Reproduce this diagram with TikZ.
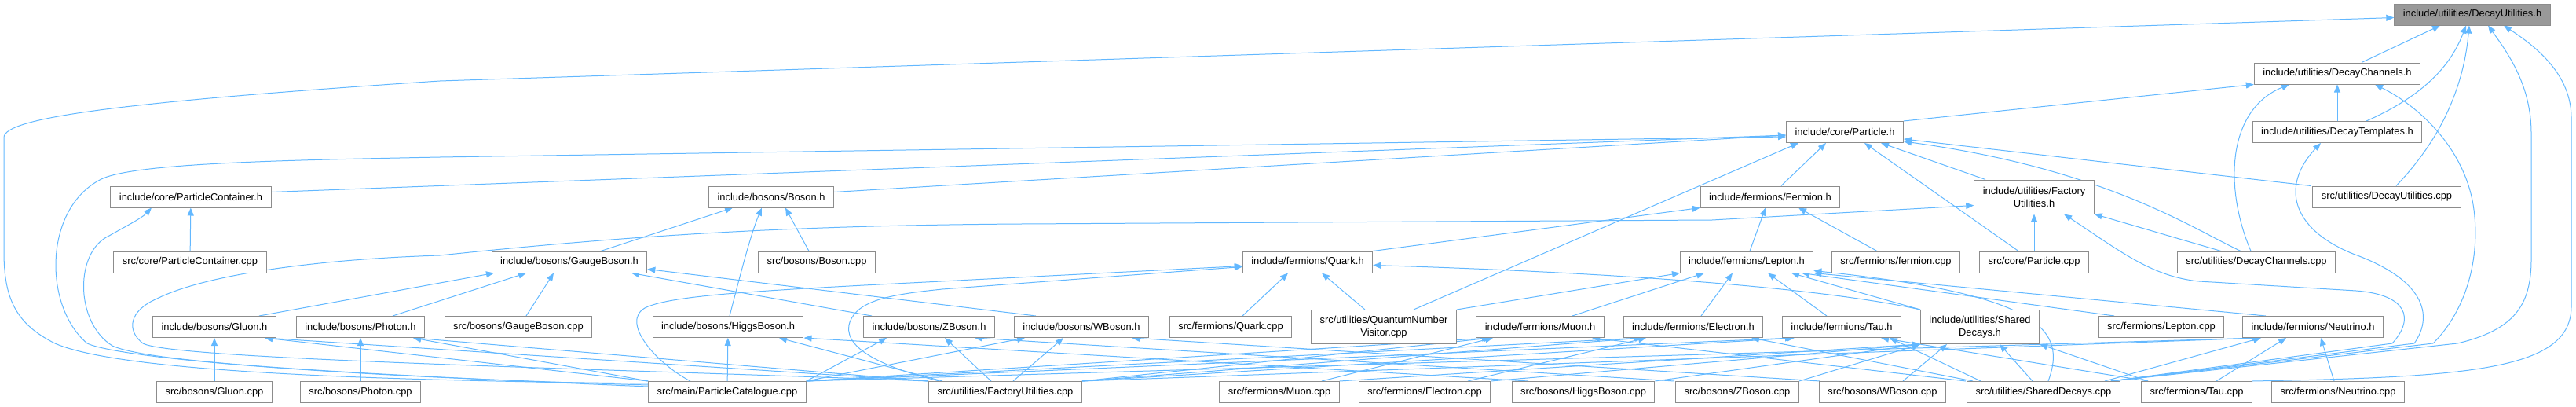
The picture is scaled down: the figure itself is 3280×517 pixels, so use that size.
\documentclass[tikz,border=0pt]{standalone}
\usepackage{fontspec}
\setmainfont{Liberation Sans}
\usepackage{tikz}
\usetikzlibrary{arrows.meta, backgrounds}
\definecolor{edgeblue}{HTML}{63B8FF}
\definecolor{boxline}{HTML}{8C8C8C}
\definecolor{rootfill}{HTML}{999999}

\begin{document}
\begin{tikzpicture}[x=1pt, y=-1pt,
  box/.style={draw=boxline, line width=1pt, fill=white, minimum height=27pt,
              inner xsep=11pt, inner ysep=2pt, font=\fontsize{12.9}{16}\selectfont},
  box2/.style={box, minimum height=43pt, align=center},
  root/.style={box, fill=rootfill},
  incl/.style={draw=edgeblue, line width=1pt, -{Triangle[length=10pt, width=8pt]}},
]
\useasboundingbox (0,0) rectangle (3280,517);

% headers and sources, row by row
\node[root] (dutil) at (3148,18.5) {include/utilities/DecayUtilities.h};
\node[box] (dchan) at (2976,93.5) {include/utilities/DecayChannels.h};
\node[box] (dtempl) at (2976,168) {include/utilities/DecayTemplates.h};
\node[box] (particle) at (2349,168) {include/core/Particle.h};

\node[box] (pcont) at (243,250.5) {include/core/ParticleContainer.h};
\node[box] (boson) at (982,250.5) {include/bosons/Boson.h};
\node[box] (fermion) at (2254,250.5) {include/fermions/Fermion.h};
\node[box2] (factory) at (2590,250.5) {include/utilities/Factory\\Utilities.h};
\node[box] (dutilcpp) at (3039,250.5) {src/utilities/DecayUtilities.cpp};

\node[box] (pcontcpp) at (242,333.5) {src/core/ParticleContainer.cpp};
\node[box] (gauge) at (725,333.5) {include/bosons/GaugeBoson.h};
\node[box] (bosoncpp) at (1040,333.5) {src/bosons/Boson.cpp};
\node[box] (quark) at (1665,333.5) {include/fermions/Quark.h};
\node[box] (lepton) at (2224,333.5) {include/fermions/Lepton.h};
\node[box] (fermioncpp) at (2414,333.5) {src/fermions/fermion.cpp};
\node[box] (particlecpp) at (2590,333.5) {src/core/Particle.cpp};
\node[box] (dchancpp) at (2873,333.5) {src/utilities/DecayChannels.cpp};

\node[box] (gluon) at (273,416) {include/bosons/Gluon.h};
\node[box] (photon) at (459,416) {include/bosons/Photon.h};
\node[box] (gaugecpp) at (660,416) {src/bosons/GaugeBoson.cpp};
\node[box] (higgs) at (927,416) {include/bosons/HiggsBoson.h};
\node[box] (zboson) at (1183,416) {include/bosons/ZBoson.h};
\node[box] (wboson) at (1377,416) {include/bosons/WBoson.h};
\node[box] (quarkcpp) at (1567,416) {src/fermions/Quark.cpp};
\node[box2] (qnv) at (1762,416) {src/utilities/QuantumNumber\\Visitor.cpp};
\node[box] (muon) at (1961,416) {include/fermions/Muon.h};
\node[box] (electron) at (2156,416) {include/fermions/Electron.h};
\node[box] (tau) at (2345,416) {include/fermions/Tau.h};
\node[box2] (shared) at (2521,416) {include/utilities/Shared\\Decays.h};
\node[box] (leptoncpp) at (2752,416) {src/fermions/Lepton.cpp};
\node[box] (neutrino) at (2945,416) {include/fermions/Neutrino.h};

\node[box] (gluoncpp) at (273,499) {src/bosons/Gluon.cpp};
\node[box] (photoncpp) at (459,499) {src/bosons/Photon.cpp};
\node[box] (catalogue) at (926,499) {src/main/ParticleCatalogue.cpp};
\node[box] (factorycpp) at (1280,499) {src/utilities/FactoryUtilities.cpp};
\node[box] (muoncpp) at (1629,499) {src/fermions/Muon.cpp};
\node[box] (electroncpp) at (1814,499) {src/fermions/Electron.cpp};
\node[box] (higgscpp) at (2016,499) {src/bosons/HiggsBoson.cpp};
\node[box] (zbosoncpp) at (2212,499) {src/bosons/ZBoson.cpp};
\node[box] (wbosoncpp) at (2397,499) {src/bosons/WBoson.cpp};
\node[box] (sharedcpp) at (2602,499) {src/utilities/SharedDecays.cpp};
\node[box] (taucpp) at (2797,499) {src/fermions/Tau.cpp};
\node[box] (neutrinocpp) at (2977,499) {src/fermions/Neutrino.cpp};

\begin{scope}[on background layer]
% into DecayUtilities.h
\draw[incl] ([yshift=11pt]catalogue.west) .. controls (450,484) and (150,472) .. (70,437)
  .. controls (20,412) and (5,380) .. (5,320) -- (5,175) .. controls (5,150) and (150,130) .. (560,103)
  -- ([yshift=-4pt]dutil.west);
\draw[incl] ([xshift=31pt]dchan.north) -- ([xshift=-41pt]dutil.south);
\draw[incl] ([xshift=37pt]dtempl.north) .. controls (3090,120) and (3122,80) .. ([xshift=-8pt]dutil.south);
\draw[incl] ([xshift=12pt]dutilcpp.north) .. controls (3115,170) and (3138,100) .. ([xshift=-4pt]dutil.south);
\draw[incl] ([xshift=-12pt]sharedcpp.north east) -- (3129,437) .. controls (3200,420) and (3223,390) .. (3223,330)
  -- (3223,170) .. controls (3223,110) and (3195,70) .. ([xshift=20pt]dutil.south);
\draw[incl] (taucpp.north east) .. controls (3150,480) and (3274,470) .. (3274,390)
  -- (3274,150) .. controls (3274,95) and (3230,60) .. ([xshift=40pt]dutil.south);

% into DecayChannels.h and DecayTemplates.h
\draw[incl] (particle.north east) -- (dchan.south west);
\draw[incl] (dtempl) -- (dchan);
\draw[incl] ([xshift=-7pt]dchancpp.north) .. controls (2832,240) and (2835,140) .. ([xshift=-61pt]dchan.south);
\draw[incl] ([xshift=-12pt]sharedcpp.north east) -- (3098,437) .. controls (3140,395) and (3158,330) .. (3150,267)
  .. controls (3140,190) and (3080,135) .. ([xshift=48pt]dchan.south);
\draw[incl] ([xshift=-12pt]sharedcpp.north east) -- (3074,437) .. controls (3100,400) and (3085,355) .. (2996,323)
  .. controls (2915,290) and (2905,235) .. ([xshift=-21pt]dtempl.south);

% into Particle.h
\draw[incl] ([yshift=6pt]pcont.east) -- ([yshift=-4pt]particle.west);
\draw[incl] ([yshift=6pt]boson.east) -- ([yshift=-4pt]particle.west);
\draw[incl] ([yshift=9pt]catalogue.west) .. controls (400,478) and (150,455) .. (111,437)
  .. controls (55,390) and (55,265) .. (129,228) .. controls (170,208) and (350,204) .. (560,200)
  -- ([yshift=-6pt]particle.west);
\draw[incl] ([xshift=38pt]qnv.north) -- ([xshift=-59pt]particle.south);
\draw[incl] ([xshift=14pt]fermion.north) -- ([xshift=-24pt]particle.south);
\draw[incl] ([xshift=-20pt]particlecpp.north) -- ([xshift=25pt]particle.south);
\draw[incl] ([xshift=-62pt]factory.north) -- ([xshift=46pt]particle.south);
\draw[incl] ([xshift=-97pt]dutilcpp.north) -- ([yshift=-9pt]particle.east);
\draw[incl] ([xshift=-20pt]dchancpp.north) .. controls (2790,290) and (2680,215) .. ([yshift=-12pt]particle.east);

% into ParticleContainer.h and FactoryUtilities.h
\draw[incl] (pcontcpp) -- (pcont);
\draw[incl] ([yshift=7pt]catalogue.west) .. controls (450,476) and (190,462) .. (143,440)
  .. controls (95,410) and (95,320) .. (139,300) .. controls (160,288) and (180,278) .. ([xshift=-50pt]pcont.south);
\draw[incl] (factorycpp.north west) .. controls (800,470) and (220,458) .. (182,437)
  .. controls (160,420) and (165,395) .. (200,380) .. controls (260,350) and (400,330) .. (560,325)
  .. controls (800,300) and (1000,287) .. (1300,285) -- (2180,280) -- ([yshift=-11pt]factory.west);
\draw[incl] (particlecpp) -- (factory);
\draw[incl] ([xshift=-45pt]dchancpp.north) -- (factory.south east);
\draw[incl] ([xshift=-12pt]sharedcpp.north east) -- (3046,437) .. controls (3075,405) and (3065,375) .. (3000,370)
  -- (2800,358) .. controls (2740,352) and (2700,320) .. ([xshift=38pt]factory.south);

% into Boson.h and GaugeBoson.h
\draw[incl] ([xshift=40pt]gauge.north) -- ([xshift=-49pt]boson.south);
\draw[incl] ([xshift=2pt]higgs.north) .. controls (940,360) and (955,300) .. ([xshift=-12pt]boson.south);
\draw[incl] ([xshift=-10pt]bosoncpp.north) -- ([xshift=18pt]boson.south);
\draw[incl] ([xshift=57pt]gluon.north) -- ([xshift=-96pt]gauge.south);
\draw[incl] ([xshift=41pt]photon.north) -- ([xshift=-55pt]gauge.south);
\draw[incl] ([xshift=10pt]gaugecpp.north) -- ([xshift=-20pt]gauge.south);
\draw[incl] ([xshift=-73pt]zboson.north) -- ([xshift=79pt]gauge.south);
\draw[incl] ([xshift=-58pt]wboson.north) -- ([yshift=-9pt]gauge.east);

% into Fermion.h, Quark.h, Lepton.h
\draw[incl] ([xshift=83pt]quark.north) -- (fermion.south west);
\draw[incl] ([xshift=4pt]lepton.north) -- ([xshift=-6pt]fermion.south);
\draw[incl] ([xshift=-24pt]fermioncpp.north) -- ([xshift=36pt]fermion.south);
\draw[incl] ([xshift=15pt]quarkcpp.north) -- ([xshift=-25pt]quark.south);
\draw[incl] ([xshift=-24pt]qnv.north) -- ([xshift=18pt]quark.south);
\draw[incl] ([xshift=-47pt]catalogue.north) .. controls (835,462) and (790,410) .. (821,392)
  .. controls (850,377) and (950,371) .. (1100,363) -- ([yshift=-5pt]quark.west);
\draw[incl] ([xshift=-84pt]factorycpp.north) .. controls (1115,465) and (1072,440) .. (1082,410)
  .. controls (1092,383) and (1130,375) .. (1200,368) -- ([yshift=-6pt]quark.west);
\draw[incl] (shared.north west) .. controls (2300,362) and (2000,345) .. ([yshift=-4pt]quark.east);
\draw[incl] (qnv.north east) -- ([xshift=-85pt]lepton.south);
\draw[incl] ([xshift=41pt]muon.north) -- ([xshift=-54pt]lepton.south);
\draw[incl] ([xshift=10pt]electron.north) -- ([xshift=-18pt]lepton.south);
\draw[incl] ([xshift=-19pt]tau.north) -- ([xshift=27pt]lepton.south);
\draw[incl] (shared.north west) -- ([xshift=57pt]lepton.south);
\draw[incl] ([xshift=-60pt]neutrino.north) -- (lepton.south east);
\draw[incl] ([xshift=-60pt]leptoncpp.north) -- ([xshift=70pt]lepton.south);
\draw[incl] ([xshift=6pt]sharedcpp.north) .. controls (2632,420) and (2600,375) .. ([yshift=3pt]lepton.south east);

% into the bosons
\draw[incl] (gluoncpp) -- (gluon);
\draw[incl] (catalogue.north west) -- ([xshift=64pt]gluon.south);
\draw[incl] (factorycpp.north west) -- ([xshift=64pt]gluon.south);
\draw[incl] (photoncpp) -- (photon);
\draw[incl] (catalogue.north west) -- ([xshift=67pt]photon.south);
\draw[incl] (factorycpp.north west) -- ([xshift=67pt]photon.south);
\draw[incl] (catalogue) -- (higgs);
\draw[incl] ([xshift=-80pt]factorycpp.north) -- ([xshift=65pt]higgs.south);
\draw[incl] ([xshift=-70pt]higgscpp.north) -- (higgs.south east);
\draw[incl] (catalogue.north east) -- ([xshift=-54pt]zboson.south);
\draw[incl] ([xshift=-18pt]factorycpp.north) -- ([xshift=20pt]zboson.south);
\draw[incl] ([xshift=-80pt]zbosoncpp.north) -- ([xshift=58pt]zboson.south);
\draw[incl] (catalogue.north east) -- ([xshift=-72pt]wboson.south);
\draw[incl] ([xshift=10pt]factorycpp.north) -- ([xshift=-23pt]wboson.south);
\draw[incl] ([xshift=-80pt]wbosoncpp.north) -- ([xshift=64pt]wboson.south);

% into the leptons
\draw[incl] (catalogue.north east) -- ([xshift=-64pt]muon.south);
\draw[incl] (factorycpp.north east) -- ([xshift=-62pt]muon.south);
\draw[incl] ([xshift=54pt]muoncpp.north) -- ([xshift=-60pt]muon.south);
\draw[incl] ([xshift=-99pt]sharedcpp.north) -- ([xshift=66pt]muon.south);
\draw[incl] (catalogue.north east) -- ([xshift=-66pt]electron.south);
\draw[incl] (factorycpp.north east) -- ([xshift=-64pt]electron.south);
\draw[incl] ([xshift=55pt]electroncpp.north) -- ([xshift=-60pt]electron.south);
\draw[incl] ([xshift=-90pt]sharedcpp.north) -- ([xshift=74pt]electron.south);
\draw[incl] (catalogue.north east) -- ([xshift=-62pt]tau.south);
\draw[incl] (factorycpp.north east) -- ([xshift=-60pt]tau.south);
\draw[incl] ([xshift=-62pt]taucpp.north) -- ([xshift=50pt]tau.south);
\draw[incl] ([xshift=-80pt]sharedcpp.north) -- ([xshift=61pt]tau.south);
\draw[incl] (catalogue.north east) -- ([xshift=-68pt]neutrino.south);
\draw[incl] (factorycpp.north east) -- ([xshift=-68pt]neutrino.south);
\draw[incl] ([xshift=-20pt]sharedcpp.north east) -- ([xshift=-66pt]neutrino.south);
\draw[incl] ([xshift=25pt]taucpp.north) -- ([xshift=-34pt]neutrino.south);
\draw[incl] ([xshift=-5pt]neutrinocpp.north) -- ([xshift=10pt]neutrino.south);

% into SharedDecays.h
\draw[incl] (muoncpp.north east) -- (shared.south west);
\draw[incl] (electroncpp.north east) -- (shared.south west);
\draw[incl] (higgscpp.north east) -- (shared.south west);
\draw[incl] (zbosoncpp.north east) -- (shared.south west);
\draw[incl] ([xshift=26pt]wbosoncpp.north) -- ([xshift=-42pt]shared.south);
\draw[incl] ([xshift=-14pt]sharedcpp.north) -- ([xshift=25pt]shared.south);
\draw[incl] ([xshift=-62pt]taucpp.north) -- (shared.south east);
\end{scope}

\end{tikzpicture}
\end{document}
